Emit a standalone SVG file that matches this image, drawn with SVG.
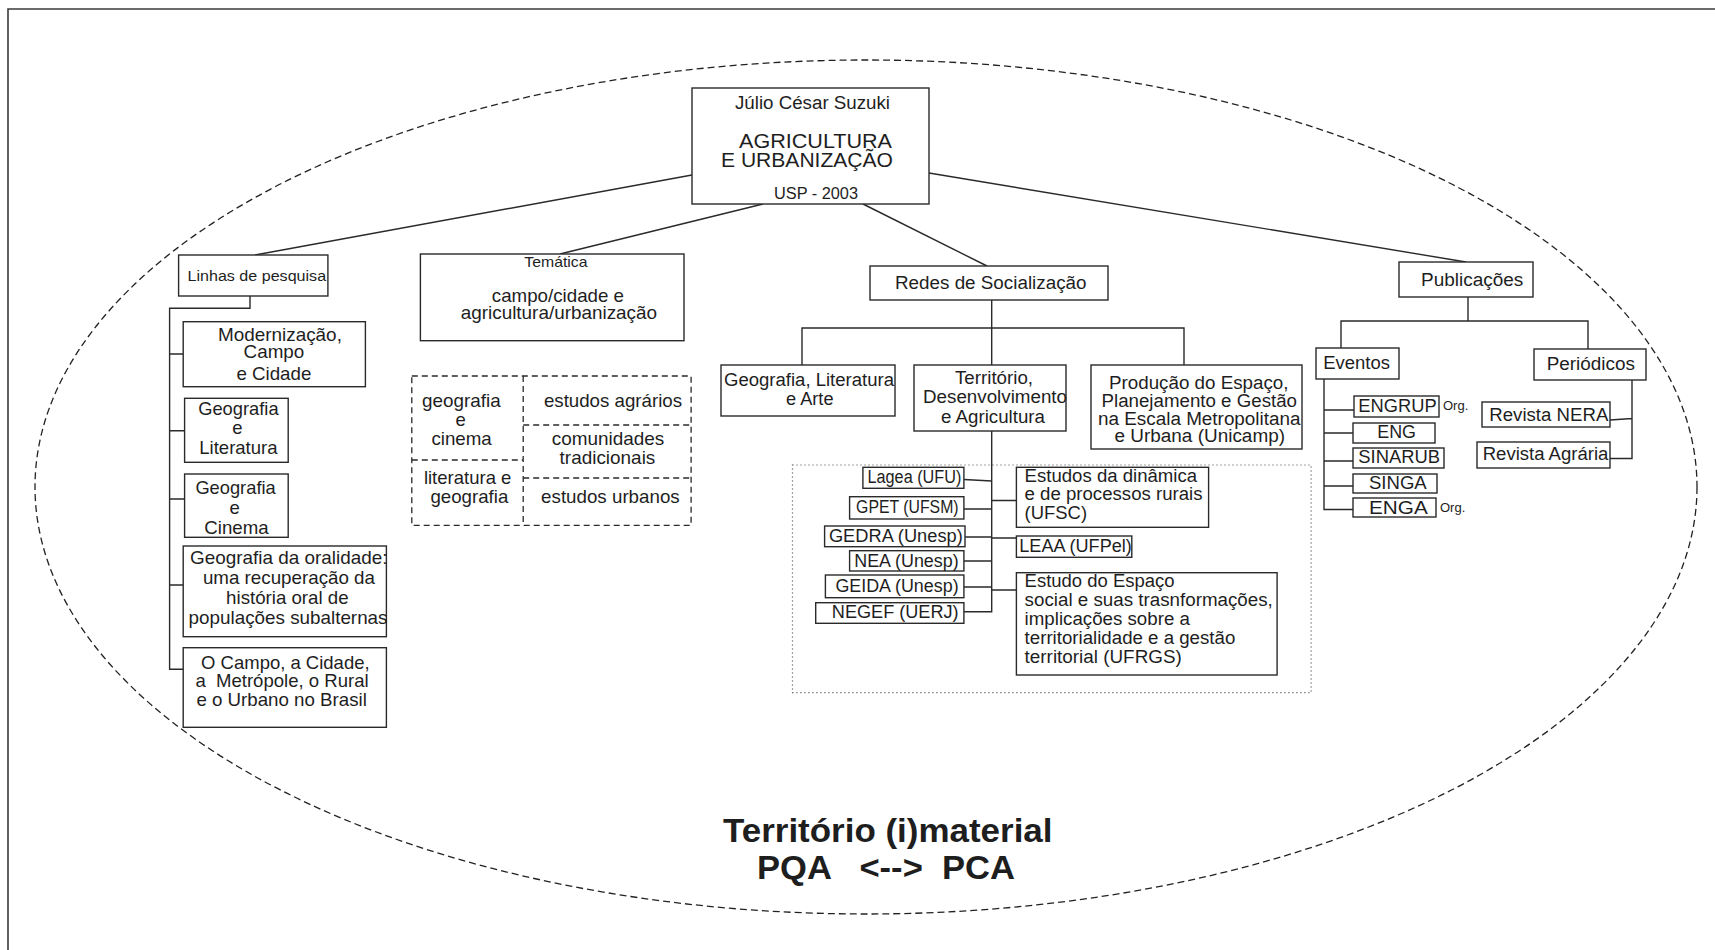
<svg xmlns="http://www.w3.org/2000/svg" width="1715" height="950" viewBox="0 0 1715 950">
<style>
.b{fill:#fff;stroke:#2a2a2a;stroke-width:1.4}
.c{fill:none;stroke:#2a2a2a;stroke-width:1.4}
.dash{fill:none;stroke:#2a2a2a;stroke-width:1.3;stroke-dasharray:6 4}
.dot{fill:none;stroke:#444;stroke-width:1.2;stroke-dasharray:1 3}
.ell{fill:none;stroke:#222;stroke-width:1.3;stroke-dasharray:7 4}
.frame{fill:none;stroke:#3a3a3a;stroke-width:1.6}
text{font-family:"Liberation Sans",Arial,sans-serif;fill:#1e1e1e;font-size:18px}
.m{text-anchor:middle}
.s15{font-size:15.5px}
.s14{font-size:15px}
.s16{font-size:16.3px}
.s17{font-size:18.5px}
.s21{font-size:21px}
.org{font-size:13px}
.big{font-size:34px;font-weight:bold}
</style>
<rect width="1715" height="950" fill="#fff"/>
<path class="frame" d="M8,950 V9 H1715"/>
<ellipse class="ell" cx="866" cy="487" rx="831" ry="427"/>

<g id="connectors">
<path class="c" d="M692,175 L255,255"/>
<path class="c" d="M763,204 L560,254"/>
<path class="c" d="M863,204 L987,266"/>
<path class="c" d="M929,173 L1466,262"/>
<path class="c" d="M250,296 V308.3 H169.6 V669.3 H183.2 M169.6,354 H183.2 M169.6,430.7 H184.6 M169.6,499 H184.6 M169.6,585 H183.2"/>
<path class="c" d="M991.7,300 V365 M802,365 V328 H1184 V365"/>
<path class="c" d="M991.7,431 V611.7 H964 M964,479.5 L991.7,481 M964,509 H991.7 M965,537 H991.7 M964,561 H991.7 M964,587 H991.7 M991.7,500.5 H1016.4 M991.7,538 H1016.4 M991.7,590 H1016.4"/>
<path class="c" d="M1468,297 V321 M1341,348 V321 H1588 V349"/>
<path class="c" d="M1324,379 V509.5 H1353 M1324,410 H1354 M1324,433 H1353 M1324,461 H1353 M1324,486 H1353"/>
<path class="c" d="M1632,380 V458.5 H1610 M1610,420 L1632,418.5"/>
</g>

<g id="root">
<rect class="b" x="692" y="88" width="237" height="116"/>
<text x="735" y="109" textLength="155" lengthAdjust="spacingAndGlyphs">Júlio César Suzuki</text>
<text class="s21" x="739" y="148" textLength="153" lengthAdjust="spacingAndGlyphs">AGRICULTURA</text>
<text class="s21" x="721" y="167" textLength="172" lengthAdjust="spacingAndGlyphs">E URBANIZAÇÃO</text>
<text class="s16" x="774" y="199" textLength="84" lengthAdjust="spacingAndGlyphs">USP - 2003</text>
</g>

<g id="linhas">
<rect class="b" x="178.6" y="255" width="149.3" height="41"/>
<text class="s15" x="187.5" y="281" textLength="138.6" lengthAdjust="spacingAndGlyphs">Linhas de pesquisa</text>
</g>

<g id="modernizacao">
<rect class="b" x="183.2" y="321.7" width="182.2" height="65"/>
<text class="s17" x="217.9" y="341" textLength="124" lengthAdjust="spacingAndGlyphs">Modernização,</text>
<text class="s17" x="243.6" y="357.5" textLength="60.7" lengthAdjust="spacingAndGlyphs">Campo</text>
<text class="s17" x="236.4" y="379.5" textLength="75" lengthAdjust="spacingAndGlyphs">e Cidade</text>
</g>

<g id="geo-literatura">
<rect class="b" x="184.6" y="398.3" width="103.6" height="64"/>
<text class="s17" x="198.2" y="415" textLength="80.4" lengthAdjust="spacingAndGlyphs">Geografia</text>
<text class="s17 m" x="237.5" y="434">e</text>
<text class="s17" x="199.3" y="453.5" textLength="78.2" lengthAdjust="spacingAndGlyphs">Literatura</text>
</g>

<g id="geo-cinema">
<rect class="b" x="184.6" y="474" width="103.6" height="63.3"/>
<text class="s17" x="195.4" y="494" textLength="80.3" lengthAdjust="spacingAndGlyphs">Geografia</text>
<text class="s17 m" x="234.6" y="513.5">e</text>
<text class="s17" x="204.3" y="533.5" textLength="64.3" lengthAdjust="spacingAndGlyphs">Cinema</text>
</g>

<g id="oralidade">
<rect class="b" x="183.2" y="546" width="203.2" height="90.7"/>
<text class="s17" x="190" y="564" textLength="197.5" lengthAdjust="spacingAndGlyphs">Geografia da oralidade:</text>
<text class="s17" x="202.9" y="583.5" textLength="172.1" lengthAdjust="spacingAndGlyphs">uma recuperação da</text>
<text class="s17" x="226.1" y="604" textLength="122.5" lengthAdjust="spacingAndGlyphs">história oral de</text>
<text class="s17" x="188.6" y="624" textLength="198.9" lengthAdjust="spacingAndGlyphs">populações subalternas</text>
</g>

<g id="campo-cidade">
<rect class="b" x="183.2" y="647.7" width="203.2" height="79.6"/>
<text class="s17" x="201.1" y="668.5" textLength="168.5" lengthAdjust="spacingAndGlyphs">O Campo, a Cidade,</text>
<text class="s17" x="195.4" y="687" textLength="173.2" lengthAdjust="spacingAndGlyphs" xml:space="preserve">a  Metrópole, o Rural</text>
<text class="s17" x="196.4" y="706" textLength="170.4" lengthAdjust="spacingAndGlyphs">e o Urbano no Brasil</text>
</g>

<g id="tematica">
<rect class="b" x="420.4" y="254" width="263.6" height="86.7"/>
<text class="s14" x="524.3" y="267" textLength="63.2" lengthAdjust="spacingAndGlyphs">Temática</text>
<text class="s17" x="491.8" y="302" textLength="132.2" lengthAdjust="spacingAndGlyphs">campo/cidade e</text>
<text class="s17" x="460.7" y="318.5" textLength="196.4" lengthAdjust="spacingAndGlyphs">agricultura/urbanização</text>
</g>

<g id="tematica-grid">
<rect class="dash" x="411.8" y="376" width="279.3" height="149.3"/>
<path class="dash" d="M523.2,376 V525.3 M411.8,460 H523.2 M523.2,425 H691.1 M523.2,478 H691.1"/>
<text class="s17" x="422.1" y="406.5" textLength="78.6" lengthAdjust="spacingAndGlyphs">geografia</text>
<text class="s17 m" x="460.7" y="425.5">e</text>
<text class="s17" x="431.4" y="445" textLength="60.4" lengthAdjust="spacingAndGlyphs">cinema</text>
<text class="s17" x="423.9" y="483.5" textLength="87.5" lengthAdjust="spacingAndGlyphs">literatura e</text>
<text class="s17" x="430.4" y="502.5" textLength="77.9" lengthAdjust="spacingAndGlyphs">geografia</text>
<text class="s17" x="543.9" y="406.5" textLength="138.2" lengthAdjust="spacingAndGlyphs">estudos agrários</text>
<text class="s17" x="551.8" y="445" textLength="112.5" lengthAdjust="spacingAndGlyphs">comunidades</text>
<text class="s17" x="559.6" y="463.5" textLength="95.7" lengthAdjust="spacingAndGlyphs">tradicionais</text>
<text class="s17" x="541.1" y="502.5" textLength="138.6" lengthAdjust="spacingAndGlyphs">estudos urbanos</text>
</g>

<g id="redes">
<rect class="b" x="870" y="266" width="238" height="34"/>
<text x="895" y="289" textLength="191.5" lengthAdjust="spacingAndGlyphs">Redes de Socialização</text>
</g>

<g id="geo-lit-arte">
<rect class="b" x="721" y="365" width="174" height="51"/>
<text x="724" y="386" textLength="170" lengthAdjust="spacingAndGlyphs">Geografia, Literatura</text>
<text x="786" y="405" textLength="47.5" lengthAdjust="spacingAndGlyphs">e Arte</text>
</g>

<g id="territorio">
<rect class="b" x="914" y="365" width="152" height="66"/>
<text x="955" y="384" textLength="78" lengthAdjust="spacingAndGlyphs">Território,</text>
<text x="923" y="403" textLength="144" lengthAdjust="spacingAndGlyphs">Desenvolvimento</text>
<text x="941" y="423" textLength="104" lengthAdjust="spacingAndGlyphs">e Agricultura</text>
</g>

<g id="producao">
<rect class="b" x="1091" y="365" width="211" height="84"/>
<text x="1109" y="389" textLength="179.5" lengthAdjust="spacingAndGlyphs">Produção do Espaço,</text>
<text x="1101.5" y="407" textLength="195.5" lengthAdjust="spacingAndGlyphs">Planejamento e Gestão</text>
<text x="1098" y="425" textLength="202.5" lengthAdjust="spacingAndGlyphs">na Escala Metropolitana</text>
<text x="1114.5" y="442" textLength="170.5" lengthAdjust="spacingAndGlyphs">e Urbana (Unicamp)</text>
</g>

<g id="grupos">
<rect class="dot" x="792.5" y="465" width="518.6" height="227.7"/>
</g>
<g id="lagea">
<rect class="b" x="862.9" y="467.3" width="101" height="21"/>
<text x="867.5" y="483.3" textLength="93.9" lengthAdjust="spacingAndGlyphs">Lagea (UFU)</text>
</g>
<g id="gpet">
<rect class="b" x="849.6" y="496.7" width="114.3" height="22.3"/>
<text x="856.1" y="513.3" textLength="102.5" lengthAdjust="spacingAndGlyphs">GPET (UFSM)</text>
</g>
<g id="gedra">
<rect class="b" x="824.6" y="526" width="140.4" height="20.7"/>
<text x="828.9" y="542.3" textLength="133.9" lengthAdjust="spacingAndGlyphs">GEDRA (Unesp)</text>
</g>
<g id="nea">
<rect class="b" x="849.6" y="550.7" width="114.3" height="20.3"/>
<text x="854.3" y="567.3" textLength="104.3" lengthAdjust="spacingAndGlyphs">NEA (Unesp)</text>
</g>
<g id="geida">
<rect class="b" x="825.4" y="575" width="138.5" height="22.7"/>
<text x="835.4" y="591.7" textLength="123.2" lengthAdjust="spacingAndGlyphs">GEIDA (Unesp)</text>
</g>
<g id="negef">
<rect class="b" x="815.7" y="602.7" width="148.2" height="20.6"/>
<text x="831.8" y="618.3" textLength="126.8" lengthAdjust="spacingAndGlyphs">NEGEF (UERJ)</text>
</g>
<g id="ufsc">
<rect class="b" x="1016.4" y="467.3" width="192.2" height="60"/>
<text x="1024.6" y="481.7" textLength="172.5" lengthAdjust="spacingAndGlyphs">Estudos da dinâmica</text>
<text x="1024.6" y="500" textLength="177.9" lengthAdjust="spacingAndGlyphs">e de processos rurais</text>
<text x="1024.6" y="519.3" textLength="62.5" lengthAdjust="spacingAndGlyphs">(UFSC)</text>
</g>
<g id="leaa">
<rect class="b" x="1016.4" y="536" width="115.4" height="21.3"/>
<text x="1019.3" y="552.3" textLength="112.5" lengthAdjust="spacingAndGlyphs">LEAA (UFPel)</text>
</g>
<g id="ufrgs">
<rect class="b" x="1016.4" y="572.7" width="260.7" height="102.3"/>
<text x="1024.6" y="587.3" textLength="150" lengthAdjust="spacingAndGlyphs">Estudo do Espaço</text>
<text x="1024.6" y="606" textLength="248.2" lengthAdjust="spacingAndGlyphs">social e suas trasnformações,</text>
<text x="1024.6" y="625" textLength="165.3" lengthAdjust="spacingAndGlyphs">implicações sobre a</text>
<text x="1024.6" y="644" textLength="210.7" lengthAdjust="spacingAndGlyphs">territorialidade e a gestão</text>
<text x="1024.6" y="663.3" textLength="157.2" lengthAdjust="spacingAndGlyphs">territorial (UFRGS)</text>
</g>

<g id="publicacoes">
<rect class="b" x="1399" y="262" width="134" height="35"/>
<text x="1421" y="286" textLength="102.3" lengthAdjust="spacingAndGlyphs">Publicações</text>
</g>
<g id="eventos">
<rect class="b" x="1316" y="348" width="83" height="31"/>
<text x="1323.3" y="369.3" textLength="66.7" lengthAdjust="spacingAndGlyphs">Eventos</text>
</g>
<g id="periodicos">
<rect class="b" x="1534" y="349" width="112" height="31"/>
<text x="1546.7" y="370" textLength="88.3" lengthAdjust="spacingAndGlyphs">Periódicos</text>
</g>
<g id="engrup">
<rect class="b" x="1354" y="396" width="85" height="21"/>
<text x="1358.3" y="411.7" textLength="78.3" lengthAdjust="spacingAndGlyphs">ENGRUP</text>
<text class="org" x="1443" y="410">Org.</text>
</g>
<g id="eng">
<rect class="b" x="1353" y="423" width="82" height="20"/>
<text x="1377.3" y="437.7" textLength="38.7" lengthAdjust="spacingAndGlyphs">ENG</text>
</g>
<g id="sinarub">
<rect class="b" x="1353" y="448" width="91" height="20"/>
<text x="1358.3" y="463.3" textLength="81.7" lengthAdjust="spacingAndGlyphs">SINARUB</text>
</g>
<g id="singa">
<rect class="b" x="1353" y="474" width="84" height="19"/>
<text x="1369" y="489" textLength="57.7" lengthAdjust="spacingAndGlyphs">SINGA</text>
</g>
<g id="enga">
<rect class="b" x="1353" y="498" width="83" height="19"/>
<text x="1369" y="514.3" textLength="58.7" lengthAdjust="spacingAndGlyphs">ENGA</text>
<text class="org" x="1440" y="512">Org.</text>
</g>
<g id="revista-nera">
<rect class="b" x="1482" y="402" width="128" height="25"/>
<text x="1489.3" y="420.7" textLength="119" lengthAdjust="spacingAndGlyphs">Revista NERA</text>
</g>
<g id="revista-agraria">
<rect class="b" x="1477" y="442" width="133" height="26"/>
<text x="1482.7" y="460" textLength="125.7" lengthAdjust="spacingAndGlyphs">Revista Agrária</text>
</g>

<g id="titulo">
<text class="big" x="723" y="841.7" textLength="329.5" lengthAdjust="spacingAndGlyphs">Território (i)material</text>
<text class="big" x="757" y="879.3" textLength="258" lengthAdjust="spacingAndGlyphs" xml:space="preserve">PQA   &lt;--&gt;  PCA</text>
</g>
</svg>
